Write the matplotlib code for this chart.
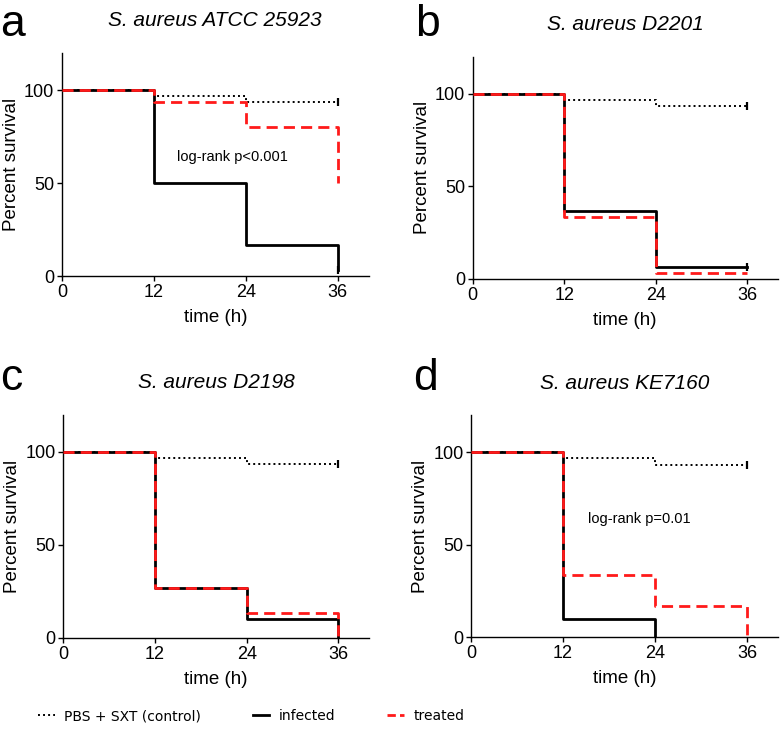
import matplotlib
matplotlib.use("Agg")
import matplotlib.pyplot as plt
from matplotlib.lines import Line2D

plt.rcParams["font.family"] = ["Liberation Sans", "DejaVu Sans"]

# survival steps, read at t = 0, 12, 24, 36 h
TIMES = [0, 12, 24, 36]
CONTROL = [100, 96.7, 93.3, 93.3]

INF_A = [100, 50, 16.7, 3.3]
TRT_A = [100, 93.3, 80, 50]
INF_B = [100, 36.7, 6.7, 6.7]
TRT_B = [100, 33.3, 3.3, 3.3]
INF_C = [100, 26.7, 10, 0]
TRT_C = [100, 26.7, 13.3, 0]
INF_D = [100, 10, 0]
TRT_D = [100, 33.3, 16.7, 0]

LETTERS = ["a", "b", "c", "d"]
TITLES = ["S. aureus ATCC 25923", "S. aureus D2201", "S. aureus D2198", "S. aureus KE7160"]
PVALS = ["log-rank p<0.001", None, None, "log-rank p=0.01"]
XTICKS = [0, 12, 24, 36]
YTICKS = [0, 50, 100]

infected = [INF_A, INF_B, INF_C, INF_D]
treated = [TRT_A, TRT_B, TRT_C, TRT_D]

fig = plt.figure(figsize=(7.8, 7.39), dpi=100)

boxes = [
    (0.0795, 0.6265, 0.393, 0.302),
    (0.606, 0.6225, 0.391, 0.301),
    (0.081, 0.1367, 0.392, 0.302),
    (0.604, 0.138, 0.393, 0.300),
]
letter_pos = [(0.0, 0.995), (0.532, 0.995), (0.0, 0.515), (0.530, 0.515)]
pval_pos = [(22.3, 64), None, None, (21.9, 64)]

for i in range(4):
    ax = fig.add_axes(boxes[i])
    ax.step(TIMES, CONTROL, where="post", color="black", lw=1.4,
            linestyle=(0, (1, 1.6)), zorder=2)
    ax.step(TIMES[:len(infected[i])], infected[i], where="post",
            color="black", lw=2.0, zorder=3)
    ax.step(TIMES[:len(treated[i])], treated[i], where="post",
            color="#ff1a1a", lw=2.0, linestyle=(0, (4, 2.2)), zorder=4)
    # censoring ticks at the end of follow-up
    ax.plot([36], [CONTROL[-1]], marker="|", color="black", ms=6, mew=1.6)
    if infected[i][-1] > 0 and len(infected[i]) == 4:
        ax.plot([36], [infected[i][-1]], marker="|", color="black", ms=6, mew=1.6)

    ax.set_xlim(0, 40)
    ax.set_ylim(0, 120)
    ax.set_xticks(XTICKS)
    ax.set_yticks(YTICKS)
    ax.spines["top"].set_visible(False)
    ax.spines["right"].set_visible(False)
    for s in ("left", "bottom"):
        ax.spines[s].set_linewidth(1.0)
    ax.tick_params(labelsize=13, length=3.5, width=1.0, pad=2)
    ax.set_xlabel("time (h)", fontsize=13.5, labelpad=6)
    ax.set_ylabel("Percent survival", fontsize=13.5, labelpad=3)
    ax.set_title(TITLES[i], fontsize=15, style="italic", pad=19)
    if PVALS[i]:
        ax.text(pval_pos[i][0], pval_pos[i][1], PVALS[i], fontsize=10.5,
                ha="center", va="center")
    fig.text(letter_pos[i][0], letter_pos[i][1], LETTERS[i], fontsize=32,
             ha="left", va="top")

handles = [
    Line2D([], [], color="black", lw=1.4, linestyle=(0, (1, 1.6))),
    Line2D([], [], color="black", lw=2.0),
    Line2D([], [], color="#ff1a1a", lw=2.0, linestyle=(0, (3, 1.5))),
]
labels = ["PBS + SXT (control)", "infected", "treated"]
fig.legend(handles, labels, loc="center", bbox_to_anchor=(0.322, 0.031),
           ncol=3, frameon=False, handlelength=1.2, columnspacing=3.7,
           handletextpad=0.7, prop={"family": "DejaVu Sans", "size": 10})

fig.savefig("out.png", dpi=100)
